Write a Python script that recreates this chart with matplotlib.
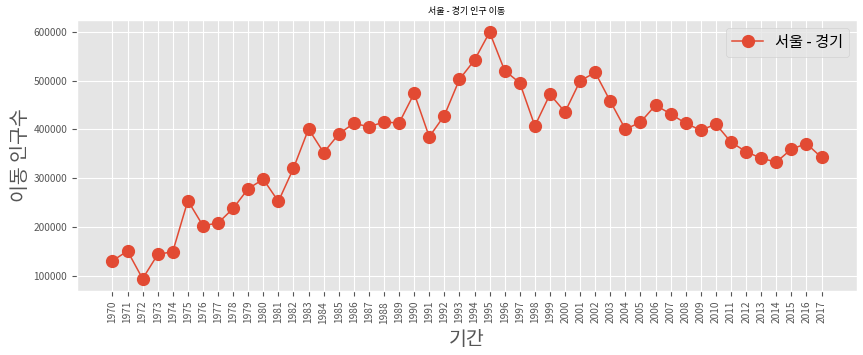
import matplotlib
matplotlib.use('Agg')
import matplotlib.pyplot as plt

# 서울 -> 경기 전출 인구수
years = [str(y) for y in range(1970, 2018)]
moves = [130149, 150313, 93333, 143234, 149045, 253705, 202276, 207722,
         237684, 278411, 297539, 252073, 320174, 400875, 352238, 390265,
         412535, 405220, 415174, 412933, 473889, 384714, 428344, 502584,
         542204, 599411, 520566, 495454, 407050, 471841, 435573, 499575,
         516765, 457656, 400206, 414621, 449632, 431637, 412408, 398282,
         410735, 373771, 354135, 340801, 332785, 359337, 370760, 342433]

plt.style.use('ggplot')
plt.rcParams['font.family'] = ['Noto Sans CJK KR', 'DejaVu Sans']
plt.rcParams['axes.unicode_minus'] = False

fig = plt.figure(figsize=(8.63, 3.55), dpi=100)
ax = fig.add_axes([0.0892, 0.180, 0.9038, 0.764])

ax.plot(years, moves, marker='o', markersize=8.5, linewidth=1.1, label='서울 - 경기')

ax.set_title('서울 - 경기 인구 이동', fontsize=6.5, pad=4)
ax.set_xlabel('기간', fontsize=14, labelpad=4)
ax.set_ylabel('이동 인구수', fontsize=14, labelpad=2)
ax.tick_params(axis='x', labelsize=7.3, rotation=90)
ax.tick_params(axis='y', labelsize=7.3)
ax.legend(loc='best', fontsize=11)

fig.savefig('out.png', dpi=100)
